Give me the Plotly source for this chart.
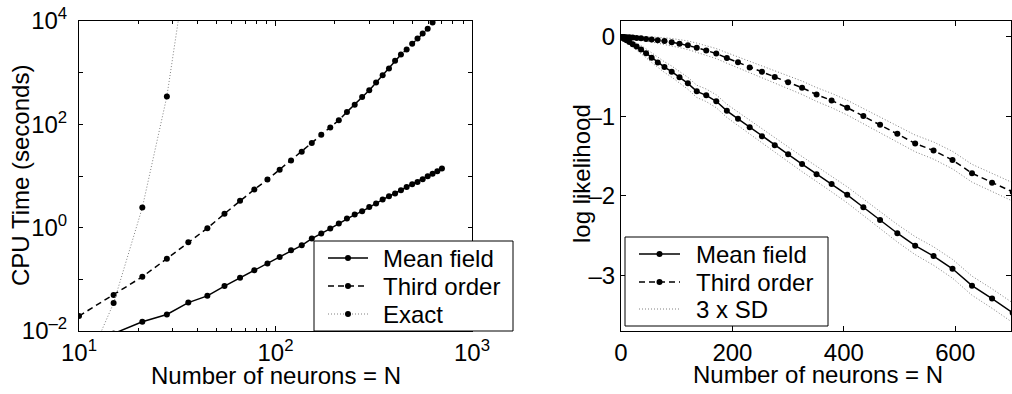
import plotly.graph_objects as go

# ---------------- data ----------------
N_ALL = [1, 3, 6, 10, 15, 21, 28, 36, 45, 55, 66, 78, 91, 105, 120, 136, 153, 171, 190,
         210, 231, 253, 276, 300, 325, 351, 378, 406, 435, 465, 496, 528, 561, 595, 630,
         666, 703]
N_CPU = [10, 15, 21, 28, 36, 45, 55, 66, 78, 91, 105, 120, 136, 153, 171, 190, 210, 231,
         253, 276, 300, 325, 351, 378, 406, 435, 465, 496, 528, 561, 595, 630, 666, 703]
N_EXACT = [10, 15, 21, 28, 36]

cpu_mean = [0.0040, 0.0089, 0.0151, 0.0209, 0.0355, 0.0479, 0.0741, 0.107, 0.150, 0.202,
            0.270, 0.365, 0.456, 0.615, 0.767, 0.959, 1.20, 1.50, 1.79, 2.07, 2.51, 2.92,
            3.49, 4.05, 4.57, 5.30, 6.12, 6.92, 7.66, 8.63, 9.86, 11.1, 12.3, 13.9]
cpu_third = [0.0195, 0.050, 0.112, 0.251, 0.525, 0.977, 1.86, 3.31, 5.50, 8.51, 13.2, 20.0,
             29.5, 43.7, 63.1, 87.1, 120, 174, 240, 339, 457, 646, 891, 1202, 1698, 2239,
             2818, 3631, 4571, 5754, 7079, 9333, 12023, 15488]
cpu_exact = [0.001, 0.0347, 2.45, 347, 2.0e5]

ll_mean = [-0.004, -0.012, -0.025, -0.042, -0.065, -0.092, -0.122, -0.158, -0.206, -0.262,
           -0.322, -0.38, -0.437, -0.508, -0.584, -0.685, -0.735, -0.81, -0.93, -1.03,
           -1.136, -1.25, -1.364, -1.477, -1.60, -1.728, -1.85, -1.987, -2.143, -2.303,
           -2.47, -2.626, -2.757, -2.917, -3.13, -3.292, -3.47]
ll_third = [0.0, -0.001, -0.002, -0.004, -0.006, -0.009, -0.013, -0.018, -0.025, -0.033,
            -0.042, -0.052, -0.066, -0.085, -0.105, -0.135, -0.17, -0.21, -0.265, -0.32,
            -0.385, -0.44, -0.505, -0.57, -0.64, -0.725, -0.80, -0.89, -0.995, -1.105,
            -1.22, -1.34, -1.43, -1.55, -1.715, -1.835, -1.95]
sd3_mean = [0.003, 0.008, 0.015, 0.022, 0.03, 0.037, 0.044, 0.05, 0.055, 0.06, 0.064, 0.067,
            0.07, 0.072, 0.075, 0.077, 0.079, 0.081, 0.083, 0.085, 0.087, 0.089, 0.091,
            0.093, 0.095, 0.097, 0.099, 0.101, 0.104, 0.107, 0.11, 0.113, 0.116, 0.118,
            0.12, 0.122, 0.124]
sd3_third = [0.001, 0.002, 0.004, 0.007, 0.01, 0.014, 0.018, 0.022, 0.027, 0.032, 0.037,
             0.042, 0.046, 0.05, 0.054, 0.057, 0.06, 0.063, 0.066, 0.069, 0.072, 0.075,
             0.078, 0.081, 0.084, 0.087, 0.09, 0.093, 0.096, 0.099, 0.102, 0.105, 0.108,
             0.11, 0.112, 0.114, 0.116]

X_LOG_TICKS = [10, 100, 1000]
X_LOG_TEXT = ["10<sup>1</sup>", "10<sup>2</sup>", "10<sup>3</sup>"]
X_LOG_MINOR = [20, 30, 40, 50, 60, 70, 80, 90, 200, 300, 400, 500, 600, 700, 800, 900]
Y_LOG_TICKS = [1e-2, 1e-1, 1, 10, 100, 1000, 1e4]
Y_LOG_TEXT = ["10<sup>\u20132</sup>", "", "10<sup>0</sup>", "", "10<sup>2</sup>", "",
              "10<sup>4</sup>"]
X_LIN_TICKS = [0, 200, 400, 600]
Y_LIN_TICKS = [-3, -2, -1, 0]
Y_LIN_TEXT = ["\u20133", "\u20132", "\u20131", "0"]
LEFT_LEGEND = ["Mean field", "Third order", "Exact"]
RIGHT_LEGEND = ["Mean field", "Third order", "3 x SD"]

FONT = "Liberation Sans, Arial, Helvetica, sans-serif"
FS = 24
W, H = 1012, 394

SOLID = dict(color="black", width=1.5)
DASHED = dict(color="black", width=1.5, dash="6px,4px")
DOTTED = dict(color="#808080", width=1, dash="1px,2px")
MARK = dict(color="black", size=6)


def px(x):
    return x / W


def py(y):
    return 1 - y / H


fig = go.Figure()

# ---------------- left panel: CPU time ----------------
fig.add_trace(go.Scatter(x=N_CPU, y=cpu_mean, name=LEFT_LEGEND[0], mode="lines+markers",
                         line=SOLID, marker=MARK, xaxis="x", yaxis="y"))
fig.add_trace(go.Scatter(x=N_CPU, y=cpu_third, name=LEFT_LEGEND[1], mode="lines+markers",
                         line=DASHED, marker=MARK, xaxis="x", yaxis="y"))
fig.add_trace(go.Scatter(x=N_EXACT, y=cpu_exact, name=LEFT_LEGEND[2], mode="lines+markers",
                         line=DOTTED, marker=MARK, xaxis="x", yaxis="y"))

# ---------------- right panel: log likelihood ----------------
bands = [
    [m + s for m, s in zip(ll_mean, sd3_mean)],
    [m - s for m, s in zip(ll_mean, sd3_mean)],
    [m + s for m, s in zip(ll_third, sd3_third)],
    [m - s for m, s in zip(ll_third, sd3_third)],
]
for b in bands:
    fig.add_trace(go.Scatter(x=N_ALL, y=b, name=RIGHT_LEGEND[2], mode="lines", line=DOTTED,
                             xaxis="x2", yaxis="y2"))
fig.add_trace(go.Scatter(x=N_ALL, y=ll_mean, name=RIGHT_LEGEND[0], mode="lines+markers",
                         line=SOLID, marker=MARK, xaxis="x2", yaxis="y2"))
fig.add_trace(go.Scatter(x=N_ALL, y=ll_third, name=RIGHT_LEGEND[1], mode="lines+markers",
                         line=DASHED, marker=MARK, xaxis="x2", yaxis="y2"))

# ---------------- legends (MATLAB-style boxes) ----------------
shapes = []
annotations = []


def add_legend(box, rows, sample_x, text_x, labels, styles, dots):
    x0, y0, x1, y1 = box
    shapes.append(dict(type="rect", xref="paper", yref="paper", x0=px(x0), x1=px(x1),
                       y0=py(y1), y1=py(y0), fillcolor="white",
                       line=dict(color="black", width=1), layer="above"))
    for yc, lab, st, dot in zip(rows, labels, styles, dots):
        shapes.append(dict(type="line", xref="paper", yref="paper", x0=px(sample_x[0]),
                           x1=px(sample_x[1]), y0=py(yc), y1=py(yc), line=st, layer="above"))
        if dot:
            cx = (sample_x[0] + sample_x[1]) / 2
            shapes.append(dict(type="circle", xref="paper", yref="paper", x0=px(cx - 3),
                               x1=px(cx + 3), y0=py(yc + 3), y1=py(yc - 3),
                               fillcolor="black", line=dict(color="black", width=0),
                               layer="above"))
        annotations.append(dict(text=lab, x=px(text_x), y=py(yc), xref="paper", yref="paper",
                                xanchor="left", yanchor="middle", showarrow=False,
                                font=dict(family=FONT, size=FS, color="black")))


add_legend((314, 241, 513, 331), [258, 286, 314], (328, 368), 381, LEFT_LEGEND,
           [SOLID, DASHED, DOTTED], [True, True, True])
add_legend((625, 237, 828, 326), [254, 282, 309], (639, 680), 694, RIGHT_LEGEND,
           [SOLID, DASHED, DOTTED], [True, True, False])

# ---------------- axis titles ----------------
for text, x, y, ang in [("Number of neurons = N", 276, 375, 0),
                        ("Number of neurons = N", 818, 374, 0),
                        ("CPU Time (seconds)", 20, 176, -90),
                        ("log likelihood", 581, 174, -90)]:
    annotations.append(dict(text=text, x=px(x), y=py(y), xref="paper", yref="paper",
                            xanchor="center", yanchor="middle", showarrow=False,
                            textangle=ang, font=dict(family=FONT, size=FS, color="black")))

yd = [py(331), py(21)]
axis_common = dict(showline=True, linecolor="black", linewidth=1, mirror="ticks",
                   ticks="inside", tickcolor="black", showgrid=False, zeroline=False,
                   tickfont=dict(family=FONT, size=FS, color="black"))

fig.update_layout(
    width=W, height=H, margin=dict(l=0, r=0, t=0, b=0, autoexpand=False),
    paper_bgcolor="white", plot_bgcolor="white", showlegend=False,
    font=dict(family=FONT, size=FS, color="black"),
    xaxis=dict(domain=[px(79), px(472)], type="log", range=[1, 3], anchor="y",
               tickmode="array", tickvals=X_LOG_TICKS, ticktext=X_LOG_TEXT, ticklen=5,
               minor=dict(tickmode="array", tickvals=X_LOG_MINOR, ticks="inside", ticklen=3,
                          tickcolor="black"),
               **axis_common),
    yaxis=dict(domain=yd, type="log", range=[-2, 4], anchor="x",
               tickmode="array", tickvals=Y_LOG_TICKS, ticktext=Y_LOG_TEXT, ticklen=4,
               ticklabelstandoff=6, **axis_common),
    xaxis2=dict(domain=[px(621), px(1011)], range=[0, 700], anchor="y2",
                tickmode="array", tickvals=X_LIN_TICKS, ticklen=5, **axis_common),
    yaxis2=dict(domain=yd, range=[-3.7, 0.2], anchor="x2",
                tickmode="array", tickvals=Y_LIN_TICKS, ticktext=Y_LIN_TEXT, ticklen=5,
                **axis_common),
    shapes=shapes,
    annotations=annotations,
)

fig.write_html("out.html")
